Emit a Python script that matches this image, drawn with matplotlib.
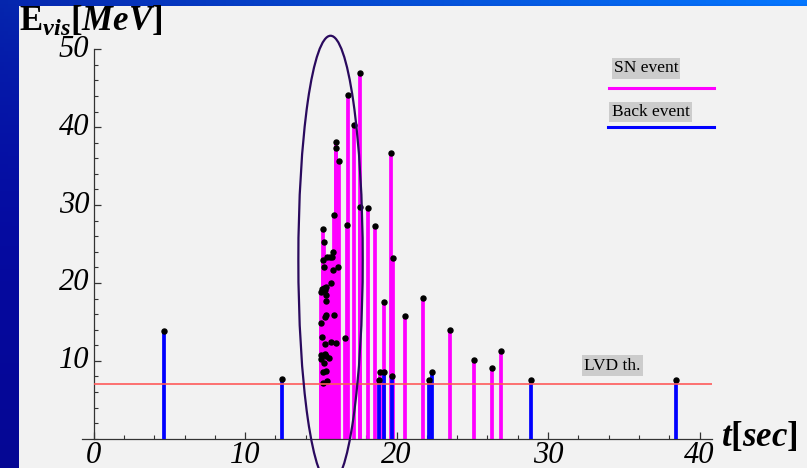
import numpy as np
import matplotlib
matplotlib.use("Agg")
import matplotlib.pyplot as plt
from matplotlib.patches import Ellipse, Rectangle
from matplotlib.lines import Line2D

plt.rcParams['mathtext.fontset'] = 'custom'
plt.rcParams['mathtext.rm'] = 'Liberation Serif'
plt.rcParams['mathtext.it'] = 'Liberation Serif:italic'
plt.rcParams['mathtext.bf'] = 'Liberation Serif:bold'
plt.rcParams['mathtext.bfit'] = 'Liberation Serif:bold:italic'

# ---- data ----
sn_t = [15.15, 15.19, 15.13, 15.23, 15.43, 15.61, 15.76, 15.82, 15.85, 16.03,
        16.01, 16.20, 16.14, 15.81, 15.68, 15.37, 15.21, 15.08, 15.04, 15.26,
        15.33, 15.33, 15.33, 15.26, 15.87, 15.00, 15.08, 15.26, 15.68, 15.99,
        16.60, 15.02, 15.28, 15.33, 15.02, 15.54, 15.23, 15.15, 15.35, 15.13,
        15.39, 16.71, 16.82, 17.20, 17.59, 17.56, 18.10, 18.58, 19.20, 18.93,
        19.66, 19.75, 20.58, 21.77, 23.55, 25.14, 26.28, 26.92]
sn_E = [26.9, 25.3, 22.9, 22.0, 23.3, 23.3, 23.3, 24.0, 28.7, 38.1,
        37.3, 35.6, 22.1, 21.6, 20.0, 19.5, 19.4, 19.2, 18.9, 19.1,
        18.5, 17.7, 15.9, 15.6, 15.9, 14.8, 13.1, 12.2, 12.4, 12.3,
        12.9, 10.7, 10.9, 10.6, 10.2, 10.3, 9.7, 8.6, 8.7, 7.1,
        7.4, 27.4, 44.1, 40.3, 47.0, 29.7, 29.6, 27.3, 17.5, 8.6,
        36.7, 23.2, 15.7, 18.1, 14.0, 10.05, 9.06, 11.3]
bg_t = [4.65, 12.42, 18.84, 19.19, 19.68, 22.13, 22.32, 28.86, 38.43]
bg_E = [13.8, 7.7, 7.5, 8.6, 8.0, 7.5, 8.6, 7.6, 7.5]
lvd_threshold = 7.0
x_ticks = [0, 10, 20, 30, 40]
y_ticks = [10, 20, 30, 40, 50]

W, H = 807, 468
fig = plt.figure(figsize=(W / 100, H / 100), dpi=100)

def fx(px):
    return px / W

def fy(py):
    return 1 - py / H

# ---- blue gradient background ----
bg_ax = fig.add_axes([0, 0, 1, 1], zorder=-10)
bg_ax.set_axis_off()
xx, yy = np.meshgrid(np.linspace(0, 1, 200), np.linspace(0, 1, 120))
r = 0.02 + 0.0 * xx
g = 0.03 + 0.32 * xx * (1 - yy) ** 6 + 0.12 * (1 - yy) ** 3
b = 0.58 + 0.32 * xx * (1 - yy) ** 6 + 0.10 * (1 - yy)
img = np.dstack([r, np.clip(g, 0, 1), np.clip(b, 0, 1)])
bg_ax.imshow(img, aspect='auto', extent=[0, 1, 0, 1], origin='upper')
bg_ax.set_xlim(0, 1)
bg_ax.set_ylim(0, 1)
bg_ax.add_patch(Rectangle((fx(19), 0), 1 - fx(19), fy(6), facecolor='#f2f2f2',
                          edgecolor='none', transform=bg_ax.transAxes))

# ---- main axes ----
left, right = fx(81.5), fx(711.7)
bottom, top = fy(438.7), fy(49.3)
ax = fig.add_axes([left, bottom, right - left, top - bottom])
ax.set_facecolor('none')
ax.set_xlim(-0.8, 40.8)
ax.set_ylim(0, 50)

ax.vlines(sn_t, 0, sn_E, colors='#ff00ff', linewidth=2.7, zorder=2)
ax.vlines(bg_t, 0, bg_E, colors='#0000ff', linewidth=2.7, zorder=3)
ax.plot(sn_t, sn_E, 'o', color='black', markersize=3.6, zorder=4, clip_on=False)
ax.plot(bg_t, bg_E, 'o', color='black', markersize=3.6, zorder=4, clip_on=False)
ax.hlines(lvd_threshold, 0, 40.8, colors='#ff5a5a', linewidth=1.2, zorder=5)

ell = Ellipse((15.64, 22.94), 4.25, 57.6, fill=False, edgecolor='#2a0a5e',
              linewidth=1.6, zorder=6, clip_on=False)
ax.add_patch(ell)

for s in ['top', 'right']:
    ax.spines[s].set_visible(False)
ax.spines['left'].set_position(('data', 0))
ax.spines['left'].set_bounds(0, 50)
for s in ['left', 'bottom']:
    ax.spines[s].set_color('#333333')
    ax.spines[s].set_linewidth(0.9)

ax.set_xticks(x_ticks)
ax.set_yticks(y_ticks)
ax.set_xticks(np.arange(0, 41, 2), minor=True)
ax.set_yticks(np.arange(0, 51, 2), minor=True)
tick_font = dict(family='Liberation Serif', style='italic', size=22)
ax.set_xticklabels([str(v) for v in x_ticks], fontdict=tick_font)
ax.set_yticklabels([str(v) for v in y_ticks], fontdict=tick_font)
ax.tick_params(which='major', direction='in', length=5, width=0.9, color='#333333', pad=2)
ax.tick_params(which='minor', direction='in', length=3, width=0.8, color='#333333')
ax.tick_params(axis='y', pad=3)
for lbl in ax.get_yticklabels():
    lbl.set_verticalalignment('center')

# axis labels
fig.text(fx(19), fy(31), r'$\mathbf{E}_{\mathbfit{vis}}\mathbf{[}\mathbfit{MeV}\mathbf{]}$',
         fontsize=25, ha='left', va='baseline')
fig.text(fx(721), fy(446), r'$\mathbfit{t}\mathbf{[}\mathbfit{sec}\mathbf{]}$',
         fontsize=25, ha='left', va='baseline')

# legend-like annotations
box = dict(facecolor='#cccccc', edgecolor='none', pad=1.5)
fig.text(fx(646), fy(68.5), 'SN event', family='Liberation Serif', fontsize=12.5,
         ha='center', va='center', bbox=box)
fig.add_artist(Line2D([fx(609), fx(714)], [fy(88.3), fy(88.3)], color='#ff00ff', linewidth=2.2))
fig.text(fx(650.5), fy(112), 'Back event', family='Liberation Serif', fontsize=12.5,
         ha='center', va='center', bbox=box)
fig.add_artist(Line2D([fx(608), fx(714)], [fy(127.3), fy(127.3)], color='#0000ff', linewidth=2.2))
fig.text(fx(612.5), fy(365.5), 'LVD th.', family='Liberation Serif', fontsize=12.5,
         ha='center', va='center', bbox=box)

fig.savefig('out.png', dpi=100)
